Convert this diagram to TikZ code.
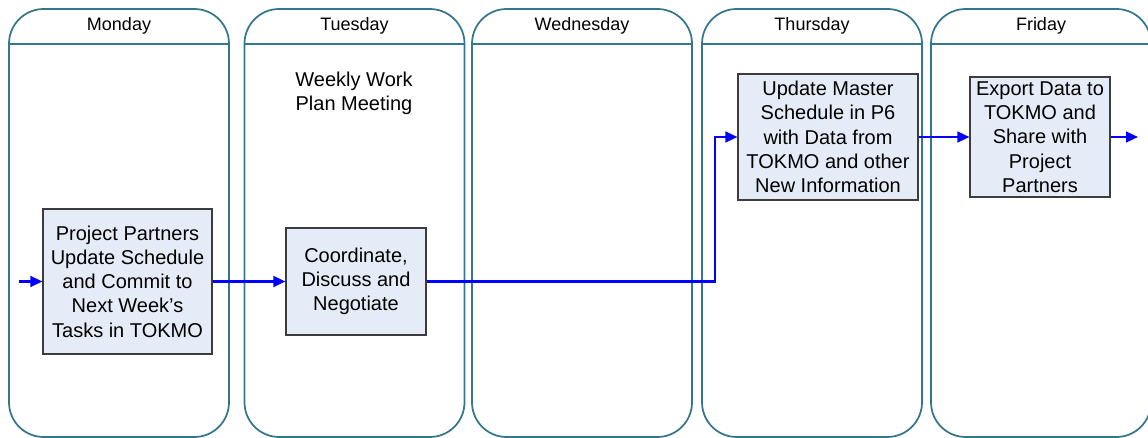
\documentclass[tikz,border=0pt]{standalone}
\usepackage{fontspec}
\setmainfont{Liberation Sans}
\usepackage{xcolor}
\usetikzlibrary{arrows.meta,positioning,calc}
\definecolor{laneline}{RGB}{52,118,140}
\definecolor{taskfill}{RGB}{230,236,247}
\definecolor{taskline}{RGB}{60,60,60}
\begin{document}
\begin{tikzpicture}[
x=0.75pt, y=-0.75pt,
day/.style={draw=laneline, line width=1.3pt, rounded corners=26pt, minimum width=165pt, minimum height=321pt, inner sep=0pt},
dayname/.style={font=\fontsize{13.5}{16}\selectfont},
task/.style={draw=taskline, fill=taskfill, line width=0.8pt, align=center, inner sep=0pt, font=\fontsize{15}{18.2}\selectfont},
flow/.style={-{Triangle[length=9pt, width=8pt]}, draw=blue, line width=1.7pt}
]
\clip (0,0) rectangle (1148,438);
% swim lanes
\node[day] (mon) at (119,223) {};
\node[day] (tue) at (354.5,223) {};
\node[day] (wed) at (582,223) {};
\node[day] (thu) at (812,223) {};
\node[day] (fri) at (1041,223) {};
\foreach \d in {mon,tue,wed,thu,fri}
  \draw[draw=laneline, line width=1.3pt] (\d.west |- 0,44) -- (\d.east |- 0,44);
\node[dayname] at (119,26) {Monday};
\node[dayname] at (354.5,26) {Tuesday};
\node[dayname] at (582,26) {Wednesday};
\node[dayname] at (812,26) {Thursday};
\node[dayname] at (1041,26) {Friday};
\node[align=center, font=\fontsize{15}{18.2}\selectfont] (meet) at (354,93) {Weekly Work\\Plan Meeting};
% tasks
\node[task, minimum width=126.75pt, minimum height=108.75pt] (commit) at (127.5,281.5) {Project Partners\\Update Schedule\\and Commit to\\Next Week’s\\Tasks in TOKMO};
\node[task, minimum width=105pt, minimum height=80.25pt] (nego) at (356,281.5) {Coordinate,\\Discuss and\\Negotiate};
\node[task, minimum width=135pt, minimum height=94.5pt] (master) at (828,137) {Update Master\\Schedule in P6\\with Data from\\TOKMO and other\\New Information};
\node[task, minimum width=105pt, minimum height=90pt] (export) at (1040,137) {Export Data to\\TOKMO and\\Share with\\Project\\Partners};
\coordinate (in) at (19,281.5);
\coordinate (bend) at (715,281.5);
\coordinate (out) at (1138,137);
\draw[flow] (in) -- (commit);
\draw[flow] (commit) -- (nego);
\draw[flow] (nego) -- (bend) |- (master);
\draw[flow] (master) -- (export);
\draw[flow] (export) -- (out);
\end{tikzpicture}
\end{document}
